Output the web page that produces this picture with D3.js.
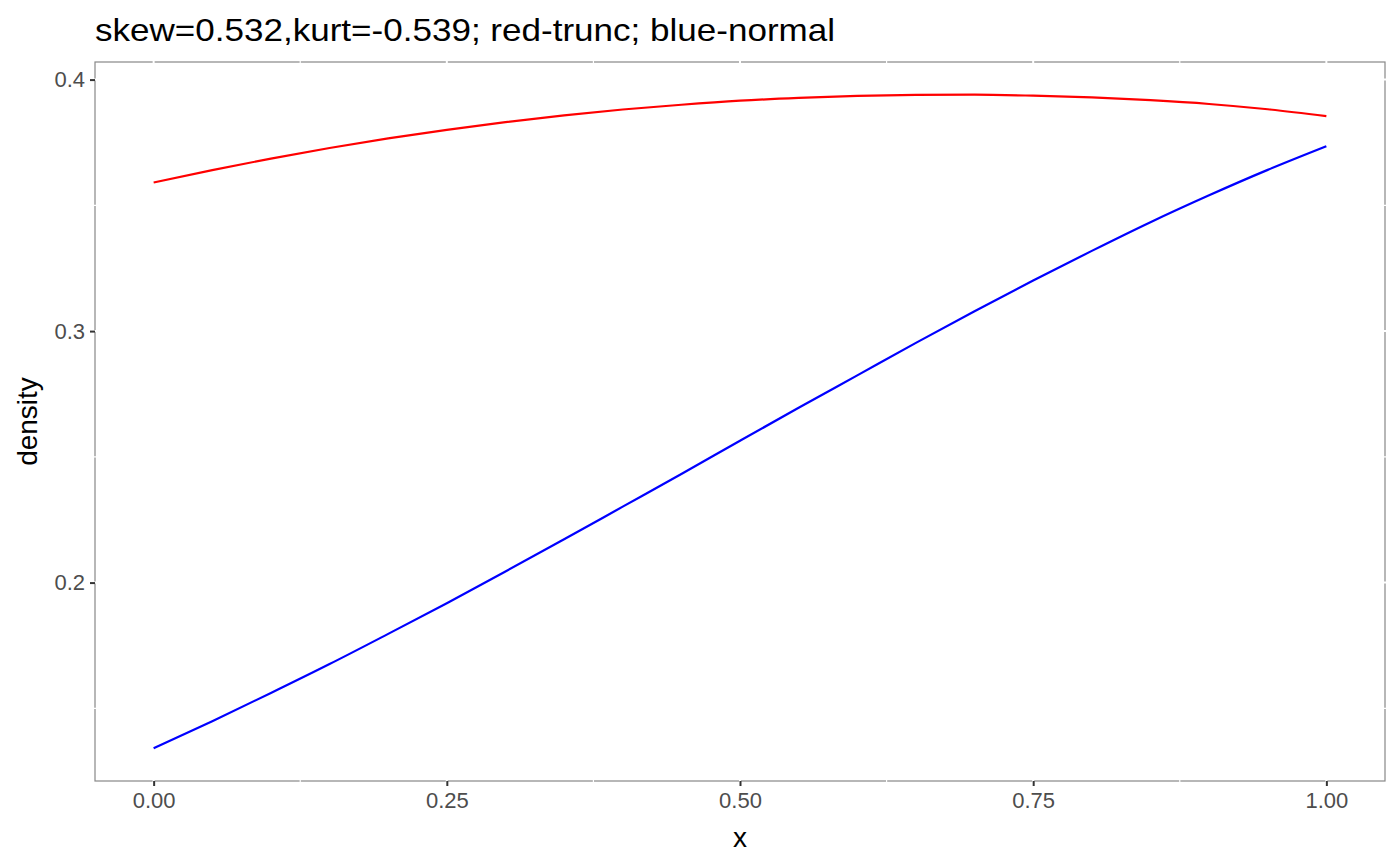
<!DOCTYPE html>
<html><head><meta charset="utf-8">
<script src="https://cdn.jsdelivr.net/npm/d3@7"></script>
<style>body{margin:0;background:#fff}svg{display:block}text{font-family:"Liberation Sans",Arial,sans-serif}</style>
</head><body><svg id="c" width="1400" height="866"></svg>
<script>
const xValues = [0,0.05,0.1,0.15,0.2,0.25,0.3,0.35,0.4,0.45,0.5,0.55,0.6,0.65,0.7,0.75,0.8,0.85,0.9,0.95,1];
const redTrunc = [0.3591,0.3640,0.3686,0.3728,0.3766,0.3800,0.3831,0.3858,0.3881,0.3900,0.3916,0.3927,0.3935,0.3939,0.3940,0.3936,0.3929,0.3918,0.3903,0.3882,0.3855];
const blueNormal = [0.1341,0.1449,0.1561,0.1676,0.1796,0.1918,0.2044,0.2172,0.2302,0.2432,0.2564,0.2695,0.2824,0.2953,0.3079,0.3201,0.3319,0.3433,0.3540,0.3641,0.3735];
const xTicks = [0,0.25,0.5,0.75,1];
const xTickLabels = ["0.00","0.25","0.50","0.75","1.00"];
const xMinor = [0.125,0.375,0.625,0.875];
const yTicks = [0.2,0.3,0.4];
const yTickLabels = ["0.2","0.3","0.4"];
const yMinor = [0.15,0.25,0.35];
const titleText = "skew=0.532,kurt=-0.539; red-trunc; blue-normal";

const svg = d3.select("#c");
const L=95,R=1385,T=62,B=781;
const xr = d3.extent(xValues), xp=(xr[1]-xr[0])*0.05;
const allY = redTrunc.concat(blueNormal);
const yr = d3.extent(allY), yp=(yr[1]-yr[0])*0.05;
const x = d3.scaleLinear().domain([xr[0]-xp,xr[1]+xp]).range([L,R]);
const y = d3.scaleLinear().domain([yr[0]-yp,yr[1]+yp]).range([B,T]);

svg.append("rect").attr("x",L).attr("y",T).attr("width",R-L).attr("height",B-T)
  .attr("fill","#fff").attr("stroke","#888").attr("stroke-width",1.2);
const g = svg.append("g");
g.selectAll("line.xm").data(xMinor).join("line").attr("x1",d=>x(d)).attr("x2",d=>x(d)).attr("y1",T-1).attr("y2",B+1).attr("stroke","#fff").attr("stroke-width",1.2);
g.selectAll("line.xM").data(xTicks).join("line").attr("x1",d=>x(d)).attr("x2",d=>x(d)).attr("y1",T-1).attr("y2",B+1).attr("stroke","#fff").attr("stroke-width",2);
g.selectAll("line.ym").data(yMinor).join("line").attr("y1",d=>y(d)).attr("y2",d=>y(d)).attr("x1",L-1).attr("x2",R+1).attr("stroke","#fff").attr("stroke-width",1.2);
g.selectAll("line.yM").data(yTicks).join("line").attr("y1",d=>y(d)).attr("y2",d=>y(d)).attr("x1",L-1).attr("x2",R+1).attr("stroke","#fff").attr("stroke-width",2);

const line = d3.line().x((d,i)=>x(xValues[i])).y(d=>y(d)).curve(d3.curveMonotoneX);
svg.append("path").datum(redTrunc).attr("d",line).attr("fill","none").attr("stroke","#ff0000").attr("stroke-width",2.2);
svg.append("path").datum(blueNormal).attr("d",line).attr("fill","none").attr("stroke","#0000ff").attr("stroke-width",2.2);

const xAxis = d3.axisBottom(x).tickValues(xTicks).tickFormat((d,i)=>xTickLabels[i]).tickSize(5).tickPadding(6);
const xa = svg.append("g").attr("transform",`translate(0,${B})`).call(xAxis);
xa.select(".domain").remove();
xa.selectAll("line").attr("stroke","#333").attr("stroke-width",2);
xa.selectAll("text").attr("fill","#4d4d4d").style("font-size","22px").attr("font-family",null);

const yAxis = d3.axisLeft(y).tickValues(yTicks).tickFormat((d,i)=>yTickLabels[i]).tickSize(5).tickPadding(5);
const ya = svg.append("g").attr("transform",`translate(${L},0)`).call(yAxis);
ya.select(".domain").remove();
ya.selectAll("line").attr("stroke","#333").attr("stroke-width",2);
ya.selectAll("text").attr("fill","#4d4d4d").style("font-size","22px").attr("font-family",null);

svg.append("text").attr("x",(L+R)/2).attr("y",847).attr("text-anchor","middle").style("font-size","28px").attr("fill","#000").text("x");
svg.append("text").attr("transform",`translate(37,${(T+B)/2}) rotate(-90)`).attr("text-anchor","middle").style("font-size","28px").attr("fill","#000").text("density");
svg.append("text").attr("x",L).attr("y",41).style("font-size","32px").attr("fill","#000")
  .attr("textLength",740).attr("lengthAdjust","spacingAndGlyphs").text(titleText);
</script></body></html>
